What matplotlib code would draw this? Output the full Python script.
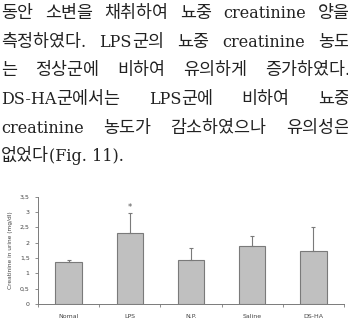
import numpy as np
import matplotlib
matplotlib.use("Agg")
import matplotlib.pyplot as plt

# texte du paragraphe (une liste de mots par ligne)
lignes = [
    ["동안", "소변을", "채취하여", "뇨중", "creatinine", "양을"],
    ["측정하였다.", "LPS군의", "뇨중", "creatinine", "농도"],
    ["는", "정상군에", "비하여", "유의하게", "증가하였다."],
    ["DS-HA군에서는", "LPS군에", "비하여", "뇨중"],
    ["creatinine", "농도가", "감소하였으나", "유의성은"],
    ["없었다(Fig. 11)."],
]

groupes = ["Nomal", "LPS", "N.P.", "Saline", "DS-HA"]
moyennes = [1.38, 2.32, 1.44, 1.90, 1.74]
erreurs = [0.05, 0.64, 0.38, 0.32, 0.78]
yticks = [0, 0.5, 1, 1.5, 2, 2.5, 3, 3.5]
ytick_labels = ["0", "0,5", "1", "1,5", "2", "2,5", "3", "3,5"]

W, H = 348, 323
fig = plt.figure(figsize=(W / 100, H / 100), dpi=100)


def hangul(c):
    return "\uac00" <= c <= "\ud7a3"


def morceaux(mot):
    # coupe un mot en morceaux hangul / latin
    res = []
    for c in mot:
        if res and hangul(res[-1][-1]) == hangul(c):
            res[-1] += c
        else:
            res.append(c)
    return res


# lignes du texte, justifiees a la main
y_lignes = [18, 47, 75, 104, 133, 161]
gauche, droite = 1, 350
fig.canvas.draw()
renderer = fig.canvas.get_renderer()
for mots, yl in zip(lignes, y_lignes):
    mots_textes = []
    for m in mots:
        parts = []
        for p in morceaux(m):
            if hangul(p[0]):
                t = fig.text(0, 1 - yl / H, p, fontsize=12.5,
                             family="Noto Sans CJK KR", va="baseline",
                             ha="left", color="#222222")
            else:
                t = fig.text(0, 1 - yl / H, p, fontsize=11.5, family="DejaVu Serif",
                             va="baseline", ha="left", color="#222222")
            parts.append((t, t.get_window_extent(renderer).width))
        mots_textes.append(parts)
    largeurs = [sum(w for _, w in parts) for parts in mots_textes]
    if len(mots) > 1:
        ecart = (droite - gauche - sum(largeurs)) / (len(mots) - 1)
    else:
        ecart = 0
    x = gauche
    for parts, w in zip(mots_textes, largeurs):
        xx = x
        for t, wp in parts:
            t.set_x(xx / W)
            xx += wp
        x += w + ecart

# graphique en barres
ax = fig.add_axes([38 / W, 19 / H, 306 / W, 107.5 / H])
pos = np.arange(len(groupes))
ax.bar(pos, moyennes, width=0.43, color="#c0c0c0", edgecolor="#7a7a7a",
       linewidth=0.8, zorder=2)
ax.errorbar(pos, moyennes, yerr=[np.zeros(len(erreurs)), erreurs], fmt="none",
            ecolor="#7a7a7a", elinewidth=0.8, capsize=1.2, capthick=0.8, zorder=3)
ax.text(pos[1], moyennes[1] + erreurs[1] + 0.03, "*", ha="center", va="bottom",
        fontsize=6, color="#555555")

ax.set_xlim(-0.5, len(groupes) - 0.5)
ax.set_ylim(0, 3.5)
ax.set_yticks(yticks)
ax.set_yticklabels(ytick_labels)
ax.set_xticks(pos)
ax.set_xticklabels(groupes)
ax.set_xticks(np.arange(len(groupes) + 1) - 0.5, minor=True)
ax.tick_params(axis="x", which="major", length=0, labelsize=4.5, pad=7,
               labelcolor="#444444")
ax.tick_params(axis="x", which="minor", length=2, width=0.6, color="#7a7a7a")
ax.tick_params(axis="y", length=2, width=0.6, color="#7a7a7a", labelsize=4.5,
               pad=4, labelcolor="#444444")
ax.set_ylabel("Creatinine in urine (mg/dl)", fontsize=4.2, color="#444444",
              labelpad=5)
for c in ["top", "right"]:
    ax.spines[c].set_visible(False)
for c in ["left", "bottom"]:
    ax.spines[c].set_color("#7a7a7a")
    ax.spines[c].set_linewidth(0.7)

fig.savefig("out.png", dpi=100)
